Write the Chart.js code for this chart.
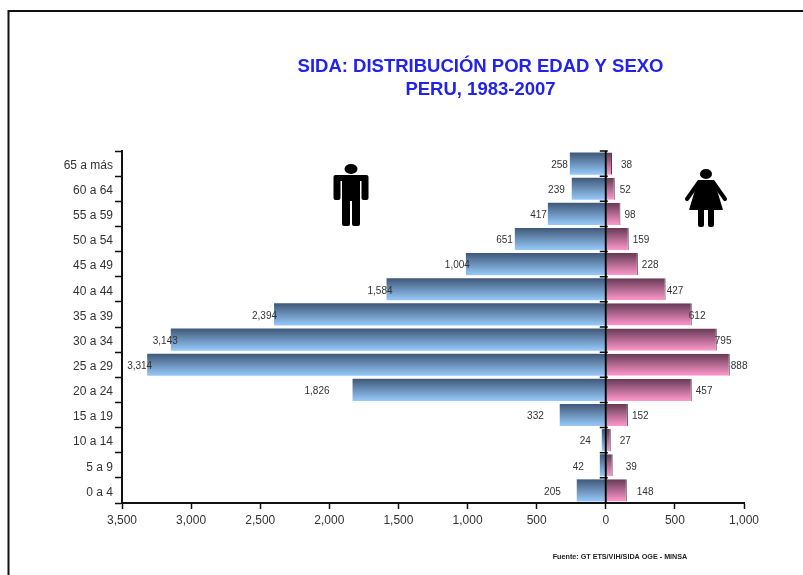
<!DOCTYPE html>
<html>
<head>
<meta charset="utf-8">
<title>SIDA: distribución por edad y sexo</title>
<script src="https://cdn.jsdelivr.net/npm/chart.js@4/dist/chart.umd.min.js"></script>
<style>
  html, body { margin: 0; padding: 0; background: #fff; overflow: hidden; }
  #wrap { width: 803px; height: 575px; }
  canvas { filter: blur(0.6px); }
</style>
</head>
<body>
<div id="wrap"><canvas id="piramide" width="803" height="575"></canvas></div>
<script>
const categories = ['65 a más', '60 a 64', '55 a 59', '50 a 54', '45 a 49', '40 a 44', '35 a 39', '30 a 34', '25 a 29', '20 a 24', '15 a 19', '10 a 14', '5 a 9', '0 a 4'];

// bar lengths as drawn in the picture (the printed labels differ a little)
const menValues   = [260, 246, 419, 658, 1012, 1586, 2400, 3147, 3318, 1832, 333, 29, 43, 210];
const womenValues = [45, 65, 106, 166, 232, 433, 622, 803, 897, 622, 160, 36, 50, 152];

// printed labels
const menLabels   = ['258', '239', '417', '651', '1,004', '1,584', '2,394', '3,143', '3,314', '1,826', '332', '24', '42', '205'];
const womenLabels = ['38', '52', '98', '159', '228', '427', '612', '795', '888', '457', '152', '27', '39', '148'];

const xTicks = [-3500, -3000, -2500, -2000, -1500, -1000, -500, 0, 500, 1000];

// gap between bar end and its label, in px
const menGaps   = [2, 7, 1, 2, -4, -6, -3, -7, -5, 23, 16, 11, 16, 16];
const womenGaps = [9, 5, 4, 4, 4, 1, -3, -2, 1, 4, 4, 9, 13, 10];

const FONT = '"Liberation Sans", Arial, sans-serif';

function barGradient(top, bottom) {
  return function (ctx) {
    const chart = ctx.chart;
    if (!chart.chartArea || ctx.dataIndex === undefined) return bottom;
    const y = chart.scales.y.getPixelForValue(ctx.dataIndex);
    const g = chart.ctx.createLinearGradient(0, y - 11, 0, y + 11);
    g.addColorStop(0, top);
    g.addColorStop(1, bottom);
    return g;
  };
}

function drawMan(c, x) {
  c.fillStyle = '#000';
  c.beginPath();
  c.ellipse(x, 169, 6.5, 5, 0, 0, Math.PI * 2);
  c.fill();
  c.beginPath();
  c.roundRect(x - 17.5, 175, 35, 6, 2);
  c.roundRect(x - 17.5, 175, 7, 25, 2);
  c.roundRect(x + 10.5, 175, 7, 25, 2);
  c.rect(x - 9, 175, 18, 26);
  c.roundRect(x - 9, 195, 8, 31, 2);
  c.roundRect(x + 1, 195, 8, 31, 2);
  c.fill();
}

function drawWoman(c, x) {
  c.fillStyle = '#000';
  c.beginPath();
  c.ellipse(x, 174, 6, 5, 0, 0, Math.PI * 2);
  c.fill();
  // dress
  c.beginPath();
  c.moveTo(x - 8, 180);
  c.lineTo(x + 8, 180);
  c.lineTo(x + 17, 210);
  c.lineTo(x - 17, 210);
  c.closePath();
  c.fill();
  // arms
  c.strokeStyle = '#000';
  c.lineWidth = 4;
  c.lineCap = 'round';
  c.beginPath();
  c.moveTo(x - 7, 182);
  c.lineTo(x - 19, 199);
  c.moveTo(x + 7, 182);
  c.lineTo(x + 19, 199);
  c.stroke();
  // legs
  c.beginPath();
  c.roundRect(x - 8, 208, 6, 19, 2);
  c.roundRect(x + 2, 208, 6, 19, 2);
  c.fill();
}

const decoPlugin = {
  id: 'deco',
  beforeDraw(chart) {
    const c = chart.ctx;
    c.save();
    c.fillStyle = '#fff';
    c.fillRect(0, 0, chart.width, chart.height);
    // frame, open at right and bottom
    c.strokeStyle = '#111';
    c.lineWidth = 2;
    c.beginPath();
    c.moveTo(8.5, 575);
    c.lineTo(8.5, 11);
    c.lineTo(803, 11);
    c.stroke();
    // title
    c.fillStyle = '#2222ee';
    c.font = 'bold 18.5px ' + FONT;
    c.textAlign = 'center';
    c.textBaseline = 'middle';
    c.fillText('SIDA: DISTRIBUCIÓN POR EDAD Y SEXO', 480.5, 67);
    c.fillText('PERU, 1983-2007', 480.5, 90);
    // source
    c.fillStyle = '#222';
    c.font = 'bold 7.2px ' + FONT;
    c.fillText('Fuente: GT ETS/VIH/SIDA OGE - MINSA', 620, 557);
    drawMan(c, 351);
    drawWoman(c, 706);
    c.restore();
  },
  afterDatasetsDraw(chart) {
    const c = chart.ctx;
    const xs = chart.scales.x;
    const ys = chart.scales.y;
    const zero = xs.getPixelForValue(0);
    c.save();
    // labels
    c.fillStyle = '#333';
    c.font = '10px ' + FONT;
    c.textBaseline = 'middle';
    categories.forEach(function (cat, i) {
      const y = ys.getPixelForValue(i) + 1.5;
      c.textAlign = 'right';
      c.fillText(menLabels[i], xs.getPixelForValue(-menValues[i]) - menGaps[i], y);
      c.textAlign = 'left';
      c.fillText(womenLabels[i], xs.getPixelForValue(womenValues[i]) + womenGaps[i], y);
    });
    // central axis with its ticks
    c.strokeStyle = '#000';
    c.lineWidth = 2;
    c.beginPath();
    c.moveTo(zero, chart.chartArea.top);
    c.lineTo(zero, chart.chartArea.bottom);
    c.stroke();
    c.lineWidth = 1.5;
    c.beginPath();
    const step = (chart.chartArea.bottom - chart.chartArea.top) / categories.length;
    for (let i = 0; i < categories.length; i++) {
      const y = chart.chartArea.top + step * i;
      c.moveTo(zero - 6, y);
      c.lineTo(zero + 2, y);
    }
    c.stroke();
    c.restore();
  }
};

new Chart(document.getElementById('piramide').getContext('2d'), {
  type: 'bar',
  data: {
    labels: categories,
    datasets: [
      {
        label: 'Hombres',
        data: menValues.map(v => -v),
        backgroundColor: barGradient('#3f5878', '#96cafa'),
        borderSkipped: false,
        barPercentage: 0.88,
        categoryPercentage: 1
      },
      {
        label: 'Mujeres',
        data: womenValues,
        backgroundColor: barGradient('#663a55', '#ff98cc'),
        borderColor: '#5a3a4d',
        borderWidth: { right: 1 },
        barPercentage: 0.88,
        categoryPercentage: 1
      }
    ]
  },
  options: {
    indexAxis: 'y',
    responsive: false,
    animation: false,
    layout: { padding: { left: 0, top: 151, right: 59, bottom: 32 } },
    plugins: { legend: { display: false }, tooltip: { enabled: false } },
    scales: {
      x: {
        stacked: true,
        min: -3500,
        max: 1000,
        afterBuildTicks(scale) { scale.ticks = xTicks.map(v => ({ value: v })); },
        afterFit(scale) { scale.height = 40; },
        border: { color: '#111', width: 2 },
        grid: { drawOnChartArea: false, tickLength: 6, tickColor: '#111', tickWidth: 1.5 },
        ticks: {
          color: '#333',
          padding: 4,
          maxRotation: 0,
          font: { family: FONT, size: 12 },
          callback: v => Math.abs(v).toLocaleString('en-US')
        }
      },
      y: {
        stacked: true,
        afterFit(scale) { scale.width = 122; },
        border: { color: '#111', width: 2 },
        grid: { offset: true, drawOnChartArea: false, tickLength: 7, tickColor: '#111', tickWidth: 1.5 },
        ticks: {
          color: '#333',
          padding: 2,
          labelOffset: 2,
          font: { family: FONT, size: 12 }
        }
      }
    }
  },
  plugins: [decoPlugin]
});
</script>
</body>
</html>
